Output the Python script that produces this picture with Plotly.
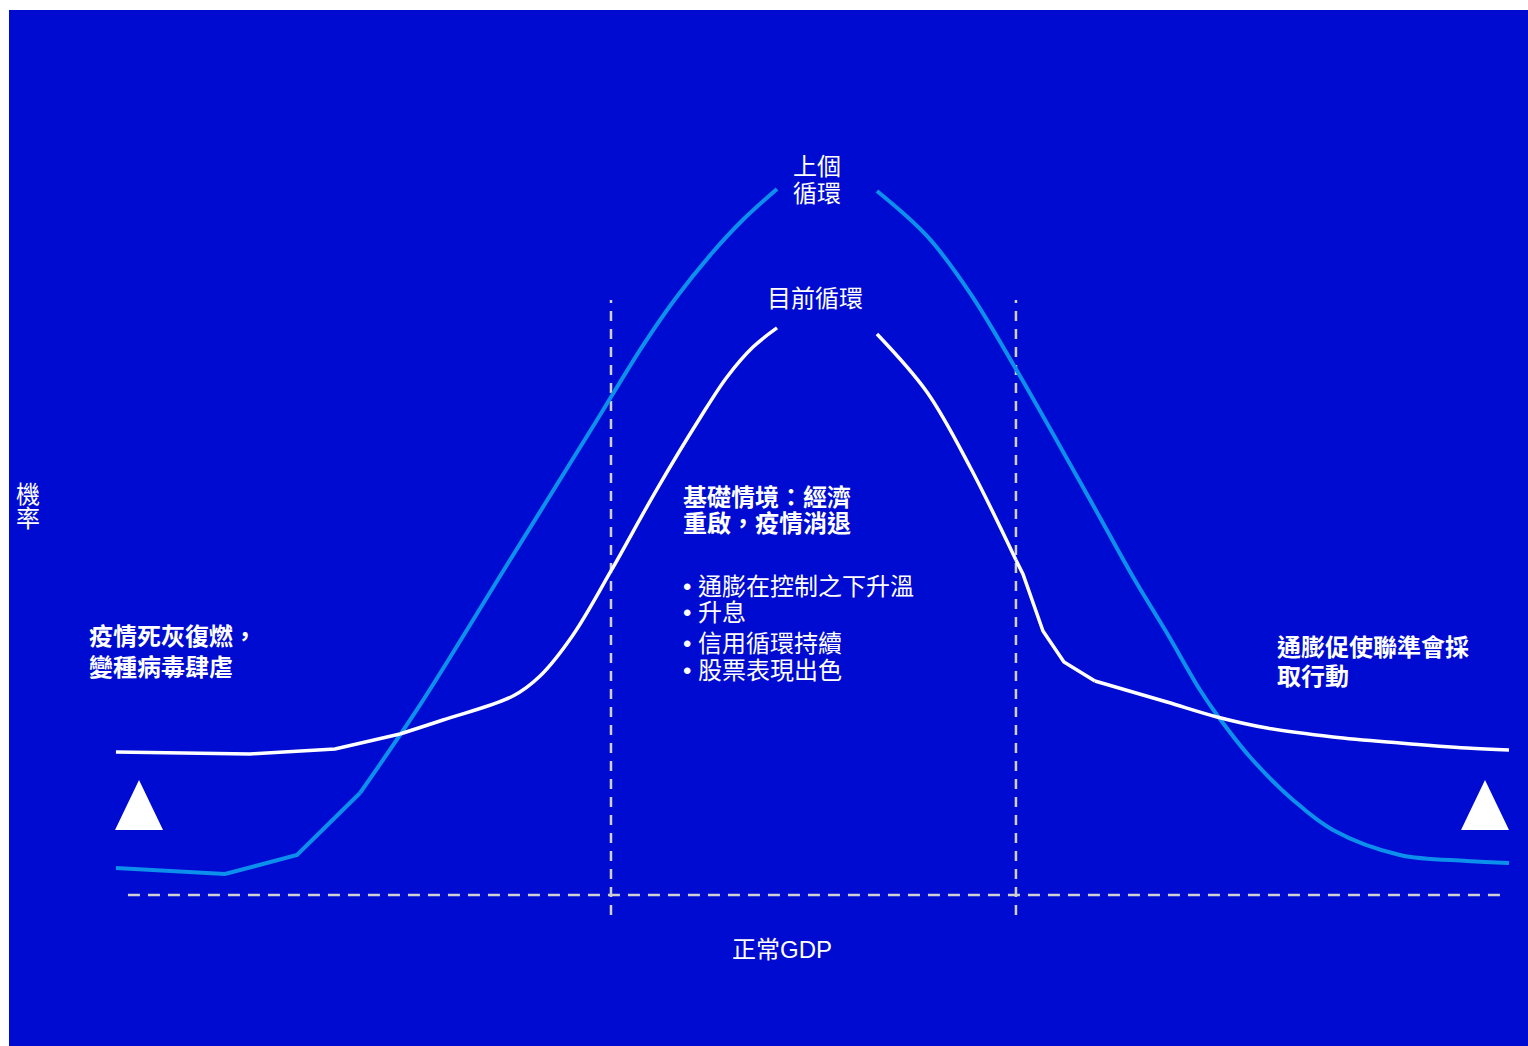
import plotly.graph_objects as go

# ---- data -------------------------------------------------------------
# Economic-outcome axis (0-100, left = downside, right = upside) and
# probability axis (0-100).  Each curve is split in two halves so that
# its label can sit in the gap at the peak.
prev_left_x = [7.04, 14.22, 18.96, 23.11, 27.06, 32.78, 38.71, 39.63, 41.74, 43.84, 46.15, 48.32, 50.56]
prev_left_y = [17.18, 16.60, 18.44, 24.42, 32.92, 46.43, 60.42, 62.64, 67.63, 72.08, 76.32, 79.75, 82.72]
prev_right_x = [57.14, 60.43, 63.27, 66.29, 71.36, 74.00, 76.23, 78.41, 79.53, 81.70, 84.53, 87.16, 91.57, 95.98, 98.75]
prev_right_y = [82.53, 78.19, 72.68, 65.35, 52.22, 45.27, 39.86, 34.36, 31.95, 27.90, 23.75, 20.85, 18.44, 17.86, 17.66]

curr_left_x = [7.04, 15.87, 21.46, 25.74, 28.57, 33.18, 34.96, 37.13, 39.63, 42.66, 45.49, 47.27, 48.98, 50.56]
curr_left_y = [28.38, 28.19, 28.67, 30.12, 31.47, 33.78, 35.71, 39.67, 45.85, 53.76, 60.62, 64.58, 67.47, 69.31]
curr_right_x = [57.14, 60.43, 63.27, 66.29, 66.75, 68.07, 69.45, 71.49, 76.23, 79.53, 82.82, 87.16, 91.57, 95.98, 98.75]
curr_right_y = [68.73, 63.13, 55.89, 46.91, 45.56, 40.06, 37.07, 35.23, 33.20, 31.76, 30.69, 29.83, 29.25, 28.76, 28.57]

# tail-risk markers (triangles)
tri_left_x = [6.98, 10.14, 8.56, 6.98]
tri_right_x = [95.59, 98.75, 97.17, 95.59]
tri_y = [20.85, 20.85, 25.68, 20.85]

# reference lines: normal GDP level and base-case band
gdp_level_y = 14.58
gdp_line_x = [7.83, 98.35]
band_x = [39.63, 66.29]
band_y = [12.64, 72.01]

# ---- labels -------------------------------------------------------------
label_prev = ["上個", "循環"]
label_curr = "目前循環"
axis_y_label = ["機", "率"]
axis_x_label = "正常GDP"
left_tail = ["疫情死灰復燃，", "變種病毒肆虐"]
right_tail = ["通膨促使聯準會採", "取行動"]
base_title = ["基礎情境：經濟", "重啟，疫情消退"]
base_points = ["• 通膨在控制之下升溫", "• 升息", "• 信用循環持續", "• 股票表現出色"]

BG = "#000BD1"
PREV = "#0C90EC"
CURR = "#FFFFFF"
DASH = "#CFCFD4"
FONT = "Liberation Sans, Noto Sans CJK TC, sans-serif"

fig = go.Figure()

# dashed reference lines
fig.add_trace(go.Scatter(x=gdp_line_x, y=[gdp_level_y, gdp_level_y], mode="lines",
                         line=dict(color=DASH, width=2.5, dash="12px,8px"), hoverinfo="skip"))
for bx in band_x:
    fig.add_trace(go.Scatter(x=[bx, bx], y=band_y, mode="lines",
                             line=dict(color=DASH, width=2.5, dash="10px,8px"), hoverinfo="skip"))


def curve(xs, ys, color, width, pieces):
    """Draw one curve piece by piece: 'linear' pieces keep their corners,
    'spline' pieces are smoothed through the given points."""
    for start, stop, shape in pieces:
        line = dict(color=color, width=width, shape=shape)
        if shape == "spline":
            line["smoothing"] = 1.0
        fig.add_trace(go.Scatter(x=xs[start:stop], y=ys[start:stop], mode="lines",
                                 line=line, hoverinfo="skip"))


# previous cycle
curve(prev_left_x, prev_left_y, PREV, 4, [(0, 4, "linear"), (3, None, "spline")])
curve(prev_right_x, prev_right_y, PREV, 4, [(0, None, "spline")])

# current cycle
curve(curr_left_x, curr_left_y, CURR, 3.5, [(0, 4, "linear"), (3, None, "spline")])
curve(curr_right_x, curr_right_y, CURR, 3.5,
      [(0, 4, "spline"), (3, 8, "linear"), (7, None, "spline")])

# triangles
for tx in (tri_left_x, tri_right_x):
    fig.add_trace(go.Scatter(x=tx, y=tri_y, mode="lines", fill="toself",
                             fillcolor="#FFFFFF", line=dict(color="#FFFFFF", width=0),
                             hoverinfo="skip"))

ann = []


def text(x, y, s, bold=False, xanchor="left"):
    ann.append(dict(x=x, y=y, xref="x", yref="y", text=s, showarrow=False,
                    xanchor=xanchor, yanchor="middle", borderpad=0, borderwidth=0,
                    font=dict(family=FONT, size=24, color="#FFFFFF",
                              weight="bold" if bold else "normal")))


text(53.19, 84.94, label_prev[0], xanchor="center")
text(53.19, 82.24, label_prev[1], xanchor="center")
text(53.06, 72.20, label_curr, xanchor="center")
text(1.25, 53.28, axis_y_label[0], xanchor="center")
text(1.25, 50.87, axis_y_label[1], xanchor="center")
text(50.89, 9.27, axis_x_label, xanchor="center")

for s, y in zip(left_tail, [39.48, 36.58]):
    text(5.27, y, s, bold=True)
for s, y in zip(right_tail, [38.51, 35.71]):
    text(83.48, y, s, bold=True)
for s, y in zip(base_title, [52.99, 50.39]):
    text(44.37, y, s, bold=True)
for s, y in zip(base_points, [44.40, 41.80, 38.90, 36.20]):
    text(44.37, y, s)

fig.update_layout(
    width=1528, height=1046,
    margin=dict(l=9, t=10, r=0, b=0, pad=0),
    paper_bgcolor="#FFFFFF", plot_bgcolor=BG,
    showlegend=False, hovermode=False,
    annotations=ann,
    xaxis=dict(range=[0, 100], visible=False, fixedrange=True),
    yaxis=dict(range=[0, 100], visible=False, fixedrange=True),
)

fig.write_html("out.html", config=dict(displayModeBar=False))
